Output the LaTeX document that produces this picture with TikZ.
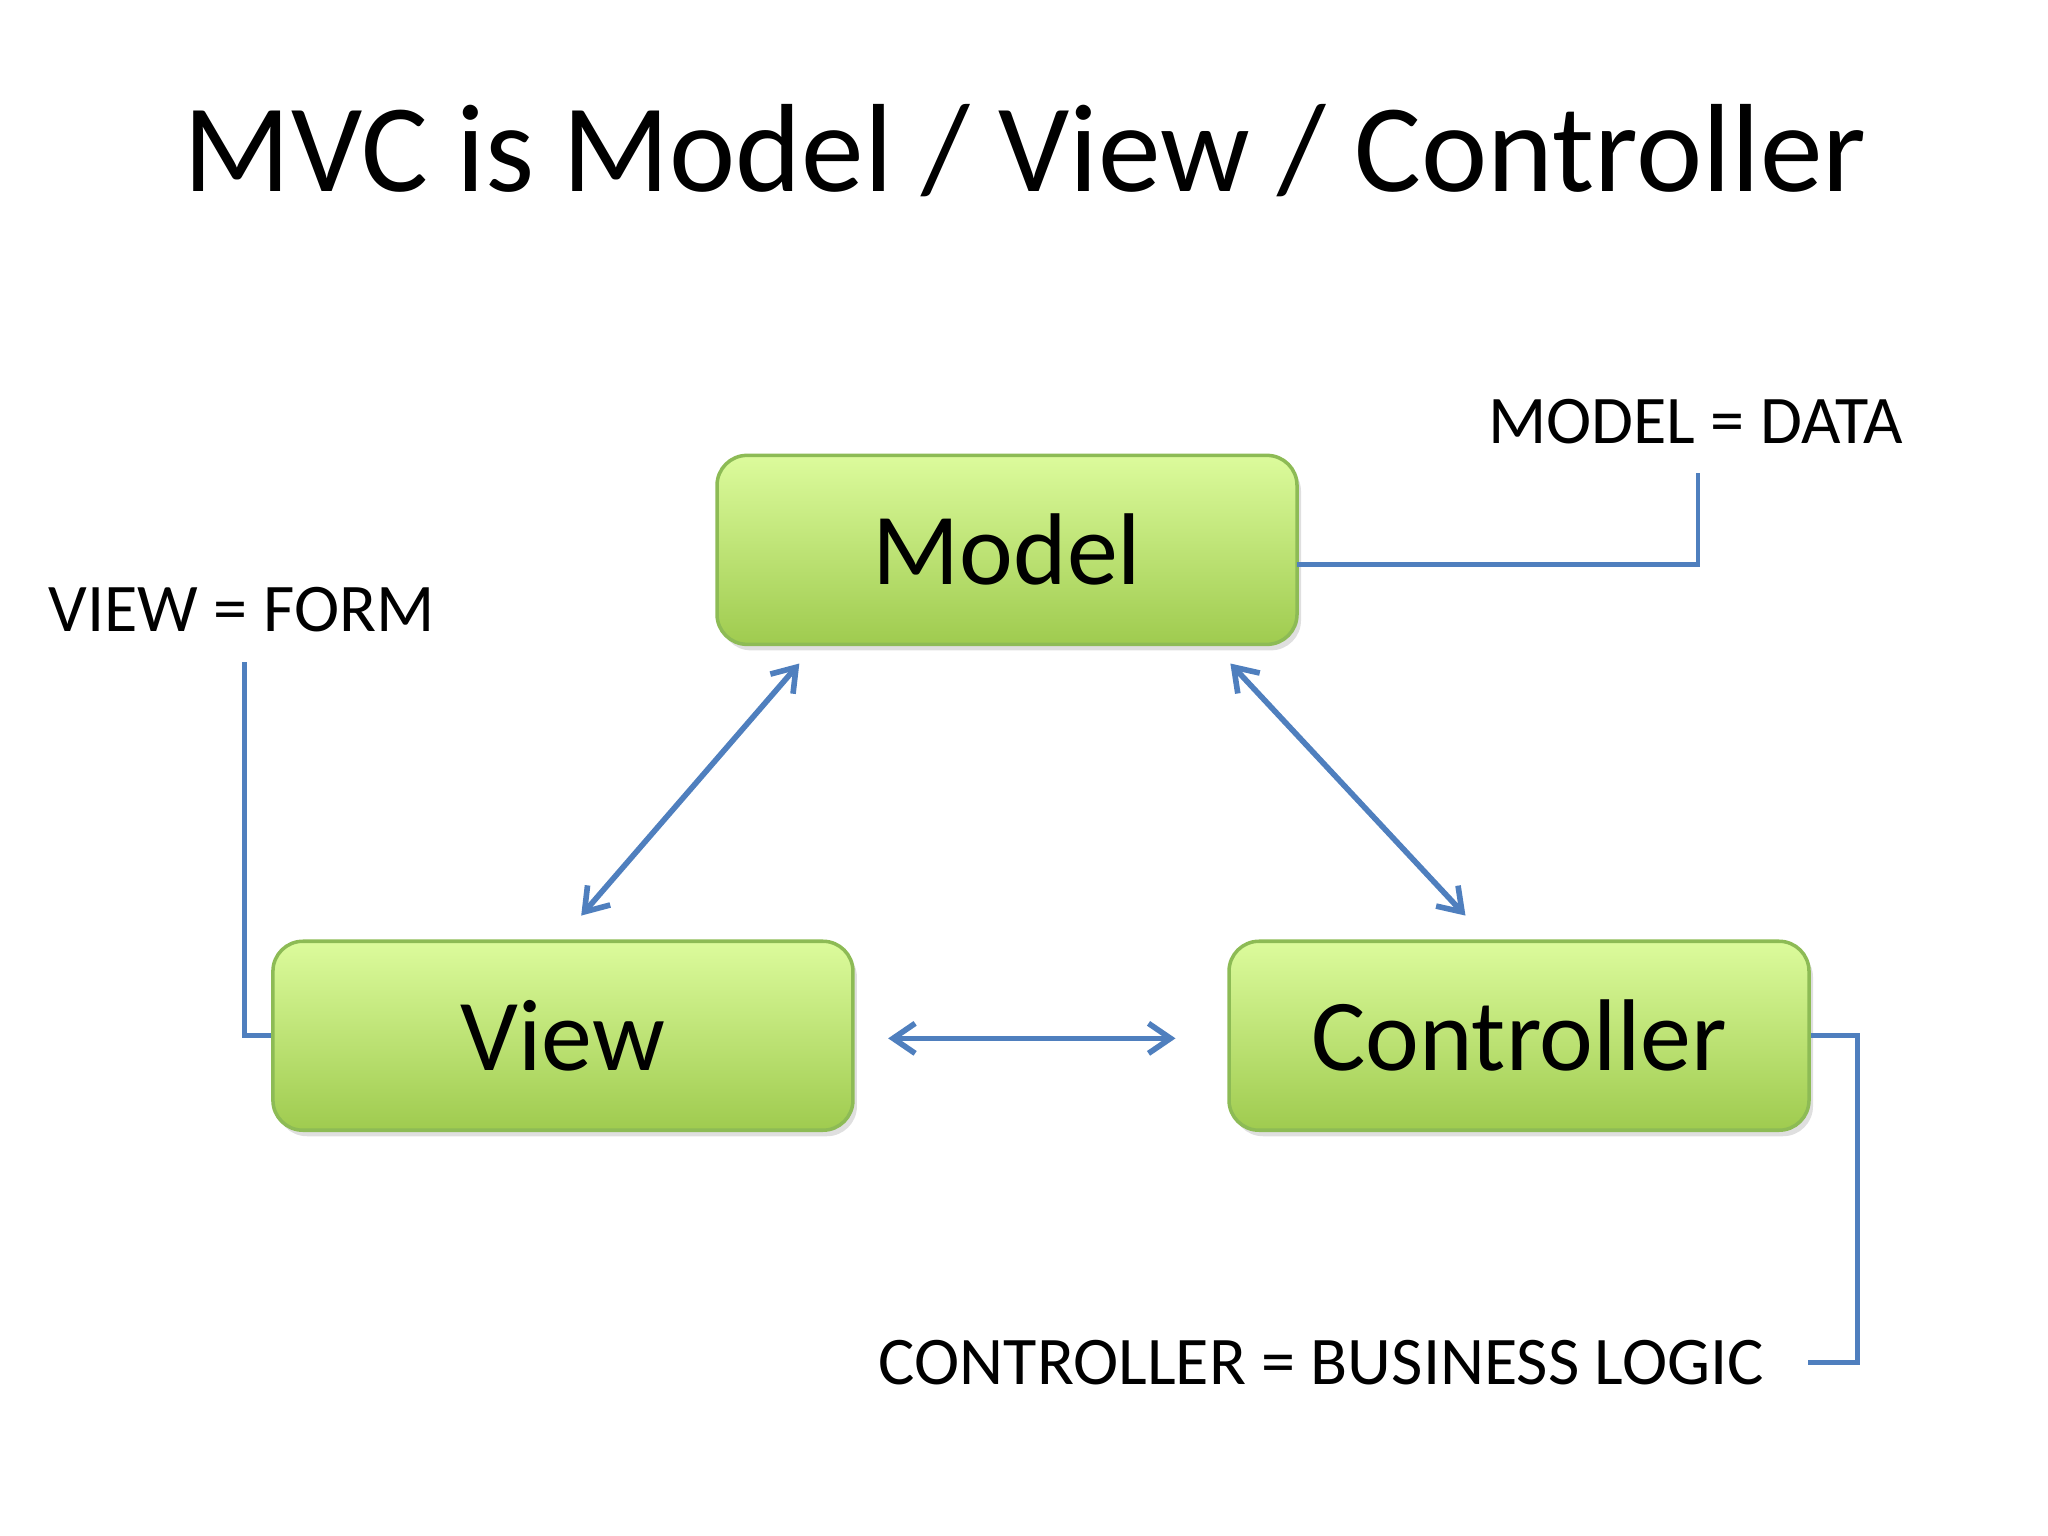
\documentclass[tikz,border=0pt]{standalone}
\usepackage{fontspec}
\setmainfont{Carlito}
\usetikzlibrary{arrows.meta,shadows}

\definecolor{boxtop}{HTML}{DCFB9C}
\definecolor{boxbot}{HTML}{9FCB4F}
\definecolor{boxline}{HTML}{8DBB55}
\definecolor{linkblue}{HTML}{4F7FBE}

\tikzset{
    block/.style={draw=boxline, line width=1pt, rounded corners=0.3cm,
        top color=boxtop, bottom color=boxbot,
        minimum width=5.8cm, minimum height=1.89cm,
        drop shadow={opacity=0.25, shadow xshift=0.04cm, shadow yshift=-0.06cm},
        font=\fontsize{29}{34}\selectfont},
    link/.style={linkblue, line width=1.6pt, {Straight Barb[length=0.22cm,width=0.3cm]}-{Straight Barb[length=0.22cm,width=0.3cm]}},
    callout/.style={linkblue, line width=1.3pt},
    note/.style={font=\fontsize{19.4}{23}\selectfont}
}

\begin{document}
\begin{tikzpicture}[x=0.01306cm, y=-0.01306cm]
    \useasboundingbox (0,0) rectangle (1568,1176);

    % Title
    \node (title) at (785,115) {\fontsize{35.7}{42}\selectfont MVC is Model / View / Controller};

    % Boxes
    \node[block] (model) at (771,421) {Model};
    \node[block] (view) at (431,793) {View};
    \node[block] (ctrl) at (1163,793) {Controller};

    % Links between boxes
    \coordinate (mL) at (612,508);
    \coordinate (mR) at (942,508);
    \coordinate (vT) at (445,701);
    \coordinate (cT) at (1122,701);
    \coordinate (vR) at (680,795);
    \coordinate (cL) at (900,795);
    \draw[link] (mL) -- (vT);
    \draw[link] (mR) -- (cT);
    \draw[link] (vR) -- (cL);

    % Notes
    \node[note] (mnote) at (1298,323) {MODEL = DATA};
    \node[note] (vnote) at (185,467) {VIEW = FORM};
    \node[note, anchor=east] (cnote) at (1360,1043) {CONTROLLER = BUSINESS LOGIC};

    % Callout lines
    \coordinate (mStart) at (993,432);
    \coordinate (mEnd) at (1300,362);
    \coordinate (vEnd) at (187,507);
    \coordinate (cBend) at (1422,793);
    \coordinate (cEnd) at (1384,1043);
    \draw[callout] (mStart) -| (mEnd);
    \draw[callout] (vEnd) |- (view.west);
    \draw[callout] (ctrl.east) -- (cBend) |- (cEnd);
\end{tikzpicture}
\end{document}
